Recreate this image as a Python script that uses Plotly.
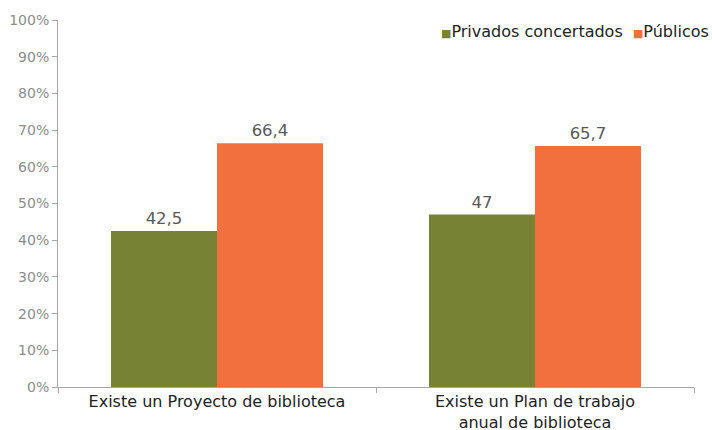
import plotly.graph_objects as go

categories = ["Existe un Proyecto de biblioteca", "Existe un Plan de trabajo<br>anual de biblioteca"]
series_names = ["Privados concertados", "Públicos"]
privados = [42.5, 47]
publicos = [66.4, 65.7]
colors = ["#788234", "#F2703E"]
y_ticks = [0, 10, 20, 30, 40, 50, 60, 70, 80, 90, 100]
y_tick_labels = [f"{v}%" for v in y_ticks]

def fmt(v):
    return (f"{v:g}").replace(".", ",")

fig = go.Figure()
for name, vals, col in zip(series_names, [privados, publicos], colors):
    fig.add_trace(go.Bar(
        x=categories, y=vals, name=name, marker_color=col,
        marker_line_width=0,
        text=[fmt(v) for v in vals], textposition="outside",
        textfont=dict(family="DejaVu Sans", size=16.5, color="#595959"),
        cliponaxis=False, showlegend=False,
    ))

# legend drawn as a single annotation (small square markers next to names)
legend_text = "&nbsp;&nbsp;".join(
    f"<span style='color:{c};font-size:11px'>■</span>{n}" for n, c in zip(series_names, colors)
)
fig.add_annotation(
    text=legend_text, xref="paper", yref="paper", x=1.026, y=1.0,
    xanchor="right", yanchor="top", showarrow=False, align="right",
    font=dict(family="DejaVu Sans", size=16, color="#222222"),
)

fig.update_layout(
    width=712, height=430,
    margin=dict(l=58, r=18, t=20, b=43, autoexpand=False),
    paper_bgcolor="white", plot_bgcolor="white",
    barmode="group", bargap=1/3, bargroupgap=0,
    font=dict(family="DejaVu Sans", color="#222222"),
)
fig.update_yaxes(range=[0, 100], tickvals=y_ticks, ticktext=y_tick_labels,
                 showgrid=False, showline=True, linecolor="#A6A6A6", linewidth=1,
                 ticks="outside", ticklen=5, tickcolor="#A6A6A6", automargin=False,
                 tickfont=dict(size=14, color="#8C8C8C"), zeroline=False)
fig.update_xaxes(showgrid=False, showline=True, linecolor="#A6A6A6", linewidth=1,
                 ticks="outside", tickson="boundaries", ticklen=5, tickcolor="#A6A6A6",
                 automargin=False, tickfont=dict(size=16, color="#222222"))

fig.write_html("out.html", config={"displayModeBar": False},
               post_script="document.body.style.margin='0px';")
